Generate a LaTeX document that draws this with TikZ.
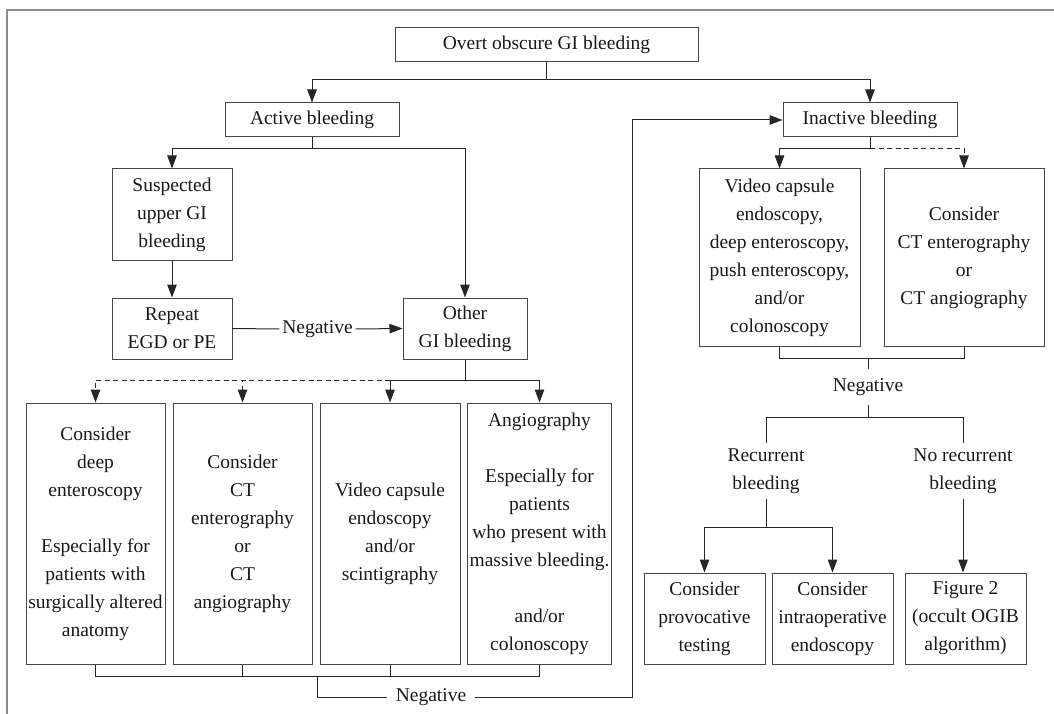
\documentclass[tikz,border=0pt]{standalone}
\usepackage{fontspec}
\setmainfont{Liberation Serif}
\usetikzlibrary{arrows.meta}
\begin{document}
\begin{tikzpicture}[x=1pt,y=-1pt,
  txt/.style={font=\fontsize{19.5}{28}\selectfont, text=black!90, align=center},
  box/.style={txt, draw=black!72, line width=1pt, inner sep=2pt},
  lbl/.style={txt, inner sep=0pt},
  conn/.style={draw=black!85, line width=1pt},
  arr/.style={conn, -{Triangle[length=13pt,width=9.5pt]}},
  dsh/.style={dash pattern=on 5pt off 3.5pt},
  frame/.style={draw=black!45, line width=1.6pt}
]
\useasboundingbox (0,0) rectangle (1054,714);
\draw[frame] (7,714) -- (7,10) -- (1054,10);

% nodes
\node[box, minimum width=303pt, minimum height=34pt] (top) at (546.5,45) {Overt obscure GI bleeding};
\node[box, minimum width=174pt, minimum height=34pt] (active) at (312,120) {Active bleeding};
\node[box, minimum width=174pt, minimum height=34pt] (inactive) at (870,120) {Inactive bleeding};
\node[box, minimum width=120pt, minimum height=91pt] (susp) at (172,214.5) {Suspected\\upper GI\\bleeding};
\node[box, minimum width=120pt, minimum height=61pt] (repeat) at (172,328.5) {Repeat\\EGD or PE};
\node[box, minimum width=124pt, minimum height=61pt] (other) at (465,328.5) {Other\\GI bleeding};
\node[lbl, minimum width=76pt, minimum height=24pt] (neg1) at (317.5,329) {Negative};

\node[box, minimum width=139pt, minimum height=261pt] (b1) at (95.5,533.5) {Consider\\deep\\enteroscopy\\[28pt]Especially for\\patients with\\surgically altered\\anatomy};
\node[box, minimum width=139pt, minimum height=261pt] (b2) at (242.5,533.5) {Consider\\CT\\enterography\\or\\CT\\angiography};
\node[box, minimum width=140pt, minimum height=261pt] (b3) at (390,533.5) {Video capsule\\endoscopy\\and/or\\scintigraphy};
\node[box, minimum width=143pt, minimum height=261pt] (b4) at (539.5,533.5) {Angiography\\[28pt]Especially for\\patients\\who present with\\massive bleeding.\\[28pt]and/or\\colonoscopy};
\node[lbl, minimum width=88pt, minimum height=24pt] (neg2) at (431,697) {Negative};

\node[box, minimum width=161pt, minimum height=177pt] (rA) at (779.5,257.5) {Video capsule\\endoscopy,\\deep enteroscopy,\\push enteroscopy,\\and/or\\colonoscopy};
\node[box, minimum width=160pt, minimum height=177pt] (rB) at (964,257.5) {Consider\\CT enterography\\or\\CT angiography};
\node[lbl, minimum height=36pt] (neg3) at (868,387) {Negative};
\node[lbl, minimum height=56pt] (rec) at (766,471) {Recurrent\\bleeding};
\node[lbl, minimum height=56pt] (norec) at (963,471) {No recurrent\\bleeding};
\node[box, minimum width=121pt, minimum height=91pt] (C) at (704.5,618.5) {Consider\\provocative\\testing};
\node[box, minimum width=121pt, minimum height=91pt] (D) at (832.5,618.5) {Consider\\intraoperative\\endoscopy};
\node[box, minimum width=121pt, minimum height=91pt] (E) at (965.5,618.5) {Figure 2\\(occult OGIB\\algorithm)};

% junction coordinates
\coordinate (j0) at (546.5,80);
\coordinate (j1) at (312,149);
\coordinate (j2) at (465,380);
\coordinate (j2b) at (390,380);
\coordinate (k1) at (317,676);
\coordinate (k2) at (632,120);
\coordinate (j3) at (870,149);
\coordinate (j4) at (868,358);

% connectors
\draw[conn] (top.south) -- (j0);
\draw[arr] (j0) -| (active.north);
\draw[arr] (j0) -| (inactive.north);

\draw[conn] (active.south) -- (j1);
\draw[arr] (j1) -| (susp.north);
\draw[arr] (j1) -| (other.north);
\draw[arr] (susp) -- (repeat);
\draw[conn] (repeat.east) -- (neg1.west);
\draw[arr] (neg1.east) -- (other.west);

\draw[conn] (other.south) -- (j2);
\draw[arr] (j2) -| (b4.north);
\draw[arr] (j2) -| (b3.north);
\draw[arr,dsh] (j2b) -| (b2.north);
\draw[arr,dsh] (j2b) -| (b1.north);

\draw[conn] (b1.south) -- ++(0,12) -| (b4.south);
\draw[conn] (b2.south) -- ++(0,12);
\draw[conn] (b3.south) -- ++(0,12);
\draw[conn] (k1) |- (neg2.west);
\draw[arr] (neg2.east) -| (k2) -- (inactive.west);

\draw[conn] (inactive.south) -- (j3);
\draw[arr] (j3) -| (rA.north);
\draw[arr,dsh] (j3) -| (rB.north);

\draw[conn] (rA.south) -- ++(0,12) -| (rB.south);
\draw[conn] (j4) -- (neg3.north);
\draw[conn] (neg3.south) -- ++(0,12) coordinate (j5);
\draw[conn] (rec.north) |- (j5) -| (norec.north);
\draw[conn] (rec.south) -- ++(0,28) coordinate (j6);
\draw[arr] (j6) -| (C.north);
\draw[arr] (j6) -| (D.north);
\draw[arr] (norec.south) -- (norec.south |- E.north);
\end{tikzpicture}
\end{document}
